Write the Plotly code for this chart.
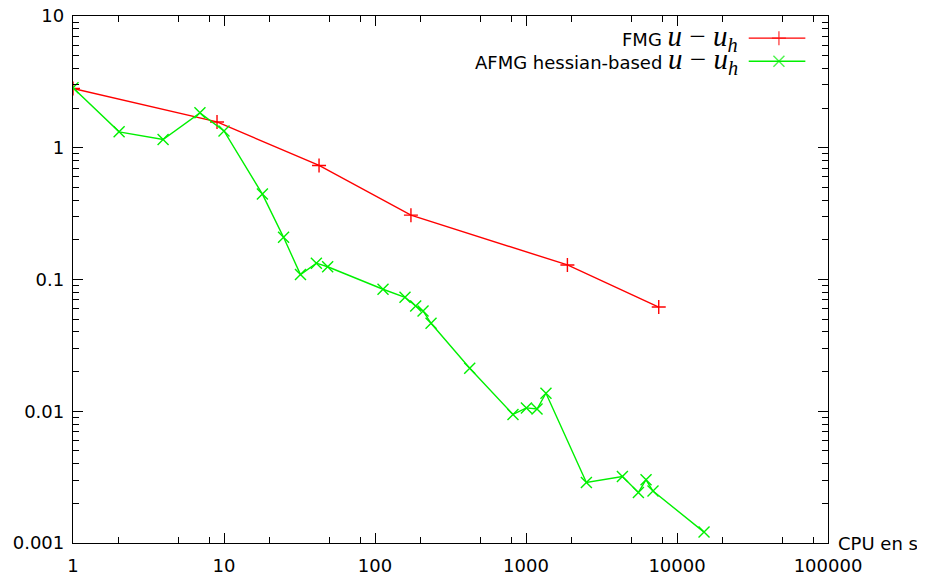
import plotly.graph_objects as go

# FMG data
fmg_cpu = [1, 8.99, 42.6, 173, 1880, 7570]
fmg_err = [2.82, 1.57, 0.734, 0.308, 0.129, 0.0618]

# AFMG hessian-based data
afmg_cpu = [1, 2.02, 3.95, 6.93, 10, 17.96, 24.8, 32.1, 40.9, 48.6, 113, 158, 186, 208, 235,
            424, 820, 1006, 1183, 1356, 2512, 4349, 5550, 6237, 6935, 15100]
afmg_err = [2.85, 1.32, 1.156, 1.84, 1.34, 0.445, 0.209, 0.109, 0.133, 0.125, 0.0843, 0.0733,
            0.0629, 0.0577, 0.0465, 0.0212, 0.00945, 0.0106, 0.0104, 0.0137, 0.00288, 0.0032,
            0.00242, 0.00302, 0.00248, 0.00121]

x_ticks = [1, 10, 100, 1000, 10000, 100000]
x_ticklabels = ["1", "10", "100", "1000", "10000", "100000"]
y_ticks = [0.001, 0.01, 0.1, 1, 10]
y_ticklabels = ["0.001", "0.01", "0.1", "1", "10"]

labels = ["FMG", "AFMG hessian-based"]
colors = ["#ff0000", "#00f000"]

x_minor = [d * m for d in [1, 10, 100, 1000, 10000] for m in (2, 5, 8)]
y_minor = [d * m for d in [0.001, 0.01, 0.1, 1] for m in range(2, 10)]

FONT = "DejaVu Sans"
FS = 18
math = ("<span style=\"font-family:'Liberation Serif';font-size:29px\">"
        "<i>u</i> \u2212 <i>u</i><sub><i>h</i></sub></span>")

fig = go.Figure()
fig.add_trace(go.Scatter(x=fmg_cpu, y=fmg_err, mode="lines+markers",
                         line=dict(color=colors[0], width=1.4),
                         marker=dict(symbol="cross-thin-open", size=10,
                                     line=dict(color=colors[0], width=1.4)),
                         showlegend=False))
fig.add_trace(go.Scatter(x=afmg_cpu, y=afmg_err, mode="lines+markers",
                         line=dict(color=colors[1], width=1.4),
                         marker=dict(symbol="x-thin-open", size=11,
                                     line=dict(color=colors[1], width=1.4)),
                         showlegend=False))

# custom legend (text left of sample, gnuplot style)
leg_rows = [0.958, 0.914]
symbols = ["cross-thin-open", "x-thin-open"]
sizes = [10, 11]
for i in range(2):
    fig.add_trace(go.Scatter(x=[0.895, 0.935, 0.970], y=[leg_rows[i]] * 3,
                             xaxis="x2", yaxis="y2", mode="lines+markers",
                             line=dict(color=colors[i], width=1.4),
                             marker=dict(symbol=symbols[i], size=[0, sizes[i], 0],
                                         line=dict(color=colors[i], width=1.4)),
                             showlegend=False, hoverinfo="skip"))
    fig.add_annotation(x=0.883, y=leg_rows[i], xref="paper", yref="paper",
                       xanchor="right", yanchor="middle", showarrow=False,
                       text=labels[i] + " " + math,
                       font=dict(family=FONT, size=FS, color="black"))

fig.add_annotation(x=1.011, y=0, xref="paper", yref="paper", xanchor="left",
                   yanchor="middle", showarrow=False, text="CPU en s",
                   font=dict(family=FONT, size=FS, color="black"))

axis_common = dict(showline=True, linecolor="black", linewidth=1.3, mirror="ticks",
                   ticks="inside", ticklen=10, tickwidth=1.2, tickcolor="black",
                   showgrid=False, zeroline=False, automargin=False,
                   ticklabeloverflow="allow",
                   tickfont=dict(family=FONT, size=FS, color="black"))

# page body has an 8px margin: size the figure so that nothing overflows the window
fig.update_layout(
    width=917, height=565,
    margin=dict(l=65, r=97, t=8, b=30, autoexpand=False),
    plot_bgcolor="white", paper_bgcolor="white",
    xaxis=dict(type="log", range=[0, 5], tickvals=x_ticks, ticktext=x_ticklabels,
               minor=dict(tickvals=x_minor, ticks="inside", ticklen=6, tickwidth=1.2,
                          tickcolor="black", showgrid=False),
               ticklabelstandoff=6,
               **axis_common),
    yaxis=dict(type="log", range=[-3, 1], tickvals=y_ticks, ticktext=y_ticklabels,
               minor=dict(tickvals=y_minor, ticks="inside", ticklen=6, tickwidth=1.2,
                          tickcolor="black", showgrid=False),
               ticklabelstandoff=4,
               **axis_common),
    xaxis2=dict(overlaying="x", range=[0, 1], visible=False, anchor="y2"),
    yaxis2=dict(overlaying="y", range=[0, 1], visible=False, anchor="x2"),
)

fig.write_html("out.html")
